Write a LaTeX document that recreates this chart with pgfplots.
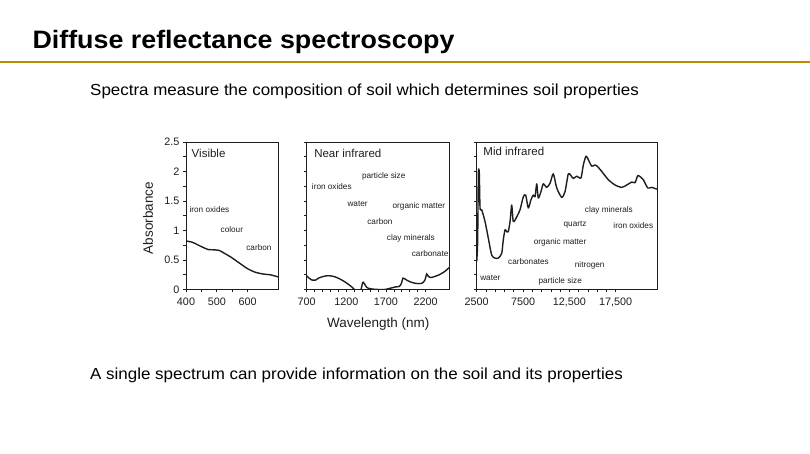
\documentclass[border=0pt]{standalone}
\usepackage{fontspec}
\setmainfont{Liberation Sans}
\usepackage{pgfplots}
\pgfplotsset{compat=1.18}
\definecolor{gold}{RGB}{191,138,0}
\definecolor{ink}{RGB}{30,30,30}

\pgfplotstableread{
x y
400 0.82
420 0.80
440 0.75
460 0.70
472 0.675
490 0.67
508 0.66
525 0.61
545 0.55
575 0.44
600 0.35
625 0.29
650 0.26
675 0.245
700 0.21
}\visdata

\pgfplotstableread{
x y
700 0.23
730 0.19
770 0.155
810 0.155
850 0.19
900 0.215
960 0.23
1020 0.225
1080 0.20
1140 0.16
1200 0.11
1260 0.05
1300 0.0
1340 -0.06
1385 0.0
1405 0.11
1415 0.12
1435 0.08
1460 0.03
1500 0.01
1560 0.0
1650 -0.005
1700 0.0
1760 0.02
1820 0.04
1870 0.05
1895 0.10
1915 0.19
1935 0.18
1970 0.15
2020 0.12
2080 0.10
2150 0.10
2190 0.15
2215 0.26
2235 0.22
2260 0.20
2300 0.21
2370 0.245
2440 0.30
2500 0.37
}\nirdata

\pgfplotstableread{
x y
2500 0.47
2600 0.80
2680 1.97
2780 1.97
2860 1.38
3040 1.35
3400 1.15
3750 0.87
4120 0.58
4480 0.53
4830 0.53
5200 0.61
5370 0.84
5560 1.01
5740 0.98
5910 0.98
6100 1.15
6280 1.43
6450 1.15
6820 1.23
7180 1.35
7530 1.57
7790 1.60
8070 1.38
8360 1.52
8610 1.60
8800 1.57
8980 1.79
9150 1.55
9440 1.66
9690 1.79
10060 1.73
10420 1.80
10770 1.96
11140 1.72
11680 1.56
12040 1.66
12390 1.96
12680 1.93
12930 1.88
13300 1.92
13760 1.89
14010 2.11
14300 2.26
14550 2.20
14920 2.09
15280 2.11
15570 2.08
16000 2.00
16710 1.86
17440 1.77
18160 1.73
18700 1.77
19240 1.82
19600 1.81
19890 1.93
20240 1.90
20490 1.86
20970 1.72
21400 1.73
21760 1.71
22000 1.70
}\mirdata

\pgfplotsset{
  panel/.style={
    scale only axis,
    anchor=south west,
    height=147.3pt,
    ymin=0, ymax=2.5,
    ytick={0,0.5,1,1.5,2,2.5},
    minor y tick num=1,
    tick align=outside,
    major tick length=3pt,
    minor tick length=3pt,
    axis line style={ink, line width=0.7pt},
    every tick/.style={ink, line width=0.6pt},
    every minor tick/.style={ink, line width=0.6pt},
    tick label style={font=\fontsize{10.8}{12}\selectfont, text=ink},
    xticklabel style={yshift=-2.5pt},
    xtick pos=bottom, ytick pos=left,
    scaled x ticks=false,
  },
  curve/.style={ink, line width=1.4pt, smooth, tension=0.4, no markers},
}
\tikzset{
  note/.style={font=\fontsize{8.2}{9}\selectfont, text=ink, inner sep=0pt},
  ptitle/.style={font=\fontsize{11.5}{13}\selectfont, text=ink, inner sep=0pt, anchor=west},
}

\begin{document}
\begin{tikzpicture}[x=1pt,y=1pt]
\useasboundingbox[fill=white] (0,0) rectangle (810,-453);
\node[anchor=base west, inner sep=0pt, font=\fontsize{25.2}{28}\selectfont\bfseries] at (32.3,-48.5) {\scalebox{1.065}[1]{Diffuse reflectance spectroscopy}};
\draw[gold, line width=2.2pt] (0,-61.7) -- (810,-61.7);
\node[anchor=base west, inner sep=0pt, font=\fontsize{16}{18}\selectfont] at (90,-95.5) {\scalebox{1.06}[1]{Spectra measure the composition of soil which determines soil properties}};
\node[anchor=base west, inner sep=0pt, font=\fontsize{16}{18}\selectfont] at (90,-379.5) {\scalebox{1.06}[1]{A single spectrum can provide information on the soil and its properties}};

% Visible
\begin{axis}[panel, at={(186pt,-289.3pt)}, width=92.3pt,
  xmin=400, xmax=700, xtick={400,500,600}, xticklabels={400,500,600},
  minor x tick num=1,
  yticklabels={0,0.5,1,1.5,2,2.5}]
\addplot[curve] table[x=x,y=y] {\visdata};
\node[ptitle] at (axis cs:418,2.31) {Visible};
\node[note, anchor=west] at (axis cs:411,1.36) {iron oxides};
\node[note] at (axis cs:549,1.01) {colour};
\node[note] at (axis cs:637,0.71) {carbon};
\end{axis}

% Near infrared
\begin{axis}[panel, at={(306.7pt,-289.3pt)}, width=142.6pt,
  xmin=700, xmax=2500, xtick={700,1200,1700,2200}, xticklabels={700,1200,1700,2200},
  minor x tick num=4,
  yticklabels={}]
\addplot[curve] table[x=x,y=y] {\nirdata};
\node[ptitle] at (axis cs:793,2.30) {Near infrared};
\node[note] at (axis cs:1672,1.92) {particle size};
\node[note] at (axis cs:1017,1.75) {iron oxides};
\node[note] at (axis cs:1342,1.45) {water};
\node[note] at (axis cs:2116,1.40) {organic matter};
\node[note] at (axis cs:1624,1.15) {carbon};
\node[note] at (axis cs:2015,0.87) {clay minerals};
\node[note] at (axis cs:2258,0.60) {carbonate};
\end{axis}

% Mid infrared
\begin{axis}[panel, at={(476.7pt,-289.3pt)}, width=180.6pt,
  xmin=2500, xmax=22000, xtick={2500,7500,12500,17500}, xticklabels={2500,7500,{12,500},{17,500}},
  minor x tick num=4,
  yticklabels={}]
\addplot[curve, line join=round] table[x=x,y=y] {\mirdata};
\node[ptitle] at (axis cs:3210,2.34) {Mid infrared};
\node[note] at (axis cs:16770,1.34) {clay minerals};
\node[note] at (axis cs:13120,1.10) {quartz};
\node[note] at (axis cs:19410,1.08) {iron oxides};
\node[note] at (axis cs:11500,0.79) {organic matter};
\node[note] at (axis cs:8090,0.47) {carbonates};
\node[note] at (axis cs:14700,0.40) {nitrogen};
\node[note] at (axis cs:3970,0.19) {water};
\node[note] at (axis cs:11520,0.14) {particle size};
\end{axis}

\node[rotate=90, inner sep=0pt, font=\fontsize{13.5}{15}\selectfont, text=ink] at (148,-218) {Absorbance};
\node[anchor=base, inner sep=0pt, font=\fontsize{13.5}{15}\selectfont, text=ink] at (378.3,-327) {Wavelength (nm)};
\end{tikzpicture}
\end{document}
